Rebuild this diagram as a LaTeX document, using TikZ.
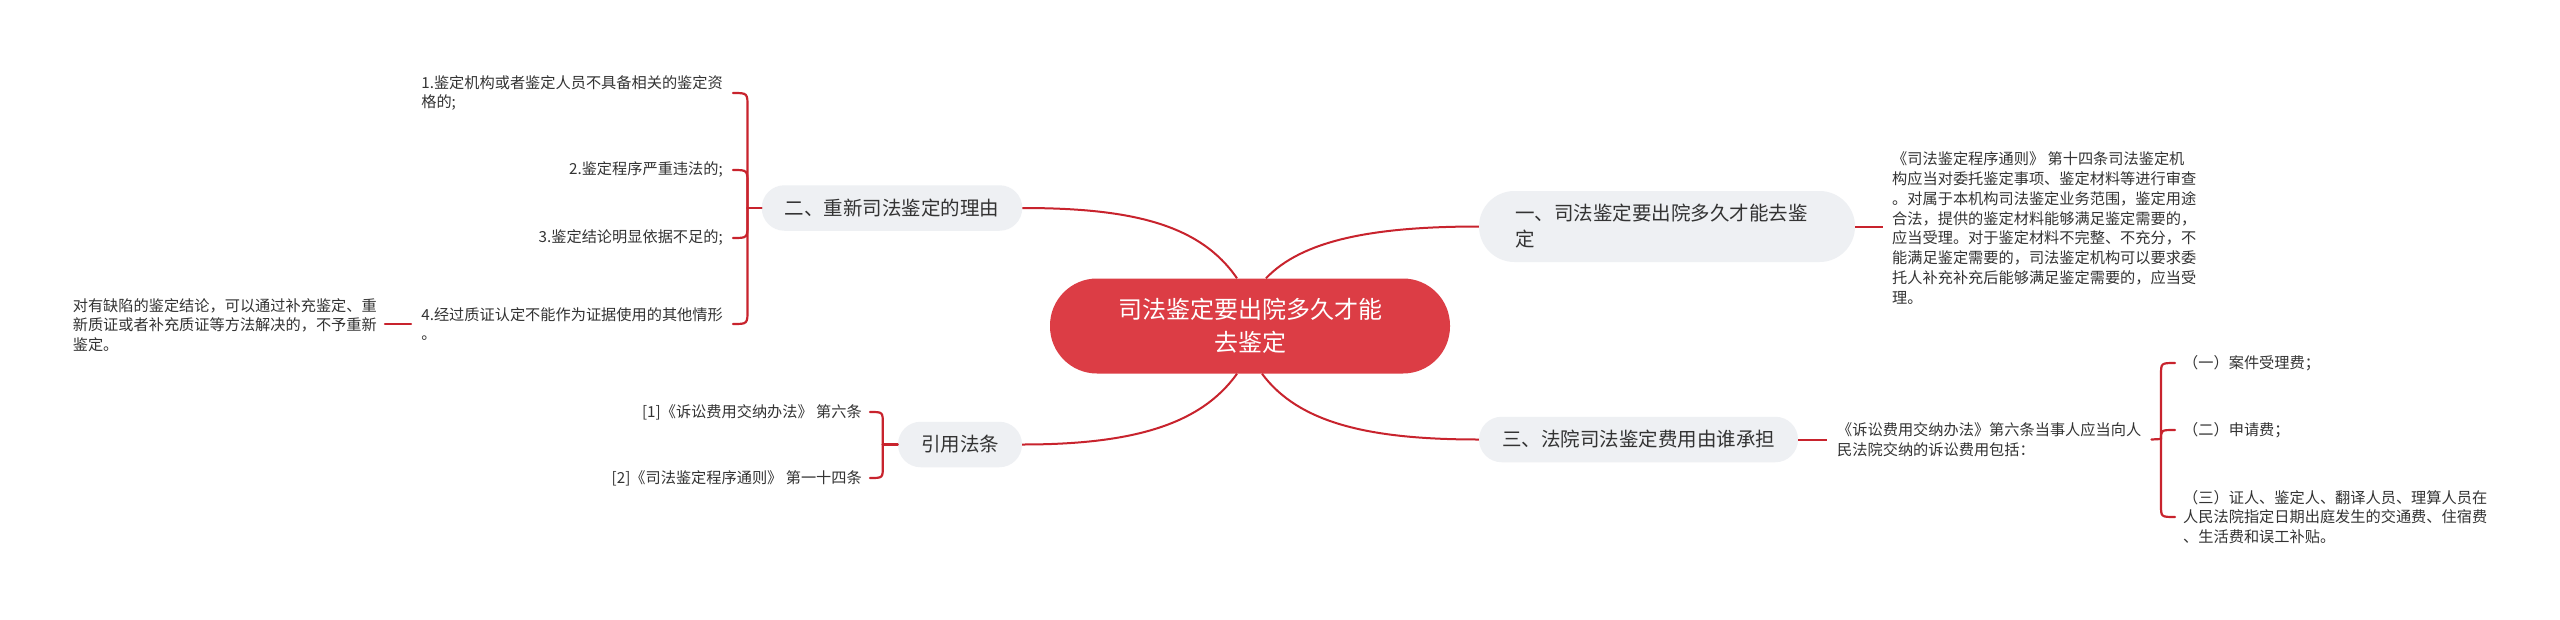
\documentclass[tikz,border=0pt]{standalone}
\usepackage{fontspec}
\setmainfont{Noto Sans CJK SC}
\usetikzlibrary{calc}
\definecolor{linered}{HTML}{C8232D}
\definecolor{rootred}{HTML}{DC3D45}
\definecolor{nodegray}{HTML}{EEF0F3}
\definecolor{txt}{HTML}{333333}
\begin{document}
\begin{tikzpicture}[x=1pt,y=-1pt,
  conn/.style={draw=linered, line width=2pt},
  brk/.style={draw=linered, line width=2.2pt, line cap=round},
  rootnode/.style={fill=rootred, text=white, rounded corners=47pt, minimum width=400pt, minimum height=95pt, align=center, font=\fontsize{24}{33}\selectfont, inner sep=0pt},
  topic/.style={fill=nodegray, text=txt, inner xsep=23pt, inner ysep=0pt, minimum height=45.5pt, rounded corners=22.7pt, font=\fontsize{19.5}{26}\selectfont},
  leaf/.style={text=txt, align=left, font=\fontsize{15.2}{19.8}\selectfont, inner xsep=10pt, inner ysep=2pt},
]
\useasboundingbox[fill=white] (0,0) rectangle (2560,619);

% root and topics
\node[rootnode] (root) at (1250,326) {司法鉴定要出院多久才能\\去鉴定};
\node[topic, minimum height=71pt, rounded corners=35.5pt, text width=304pt, align=left, inner xsep=36pt] (t1) at (1667,226.5) {一、司法鉴定要出院多久才能去鉴\\定};
\node[topic] (t2) at (892,208) {二、重新司法鉴定的理由};
\node[topic] (t4) at (960,444.5) {引用法条};
\node[topic] (t3) at (1638.5,439.5) {三、法院司法鉴定费用由谁承担};

% root connectors
\draw[conn] ($(root.north)+(-13,0)$) .. controls +(-37,-54) and +(109,0) .. (t2.east);
\draw[conn] ($(root.north)+(16,0)$) .. controls +(36,-38) and +(-106,0) .. (t1.west);
\draw[conn] ($(root.south)+(-13,0)$) .. controls +(-37,52) and +(108,0) .. (t4.east);
\draw[conn] ($(root.south)+(12,0)$) .. controls +(37,50) and +(-108,0) .. (t3.west);

% branch one
\node[leaf, anchor=west, inner xsep=9pt] (A) at (1883,228) {《司法鉴定程序通则》 第十四条司法鉴定机\\构应当对委托鉴定事项、鉴定材料等进行审查\\。对属于本机构司法鉴定业务范围，鉴定用途\\合法，提供的鉴定材料能够满足鉴定需要的，\\应当受理。对于鉴定材料不完整、不充分，不\\能满足鉴定需要的，司法鉴定机构可以要求委\\托人补充补充后能够满足鉴定需要的，应当受\\理。};
\draw[conn] (t1.east) -- (t1.east -| A.west);

% branch two
\node[leaf, anchor=east] (L1) at (733,93) {1.鉴定机构或者鉴定人员不具备相关的鉴定资\\格的;};
\node[leaf, anchor=east] (L2) at (733,170) {2.鉴定程序严重违法的;};
\node[leaf, anchor=east] (L3) at (733,238) {3.鉴定结论明显依据不足的;};
\node[leaf, anchor=east] (L4) at (733,324) {4.经过质证认定不能作为证据使用的其他情形\\。};
\node[leaf, anchor=east, inner xsep=8pt] (L5) at (385,325) {对有缺陷的鉴定结论，可以通过补充鉴定、重\\新质证或者补充质证等方法解决的，不予重新\\鉴定。};
\coordinate (j2) at ($(t2.west)+(-14,0)$);
\draw[brk] (t2.west) -- (j2);
\draw[brk] (L1.east) .. controls (j2|-L1.east) .. ($(j2|-L1.east)+(0,15)$) -- (j2);
\draw[brk] (L2.east) .. controls (j2|-L2.east) .. ($(j2|-L2.east)+(0,15)$) -- (j2);
\draw[brk] (L3.east) .. controls (j2|-L3.east) .. ($(j2|-L3.east)+(0,-15)$) -- (j2);
\draw[brk] (L4.east) .. controls (j2|-L4.east) .. ($(j2|-L4.east)+(0,-15)$) -- (j2);
\draw[brk] (L4.west) -- (L4.west -| L5.east);

% branch cited laws
\node[leaf, anchor=east, inner xsep=8pt] (R1) at (870,412) {[1]《诉讼费用交纳办法》 第六条};
\node[leaf, anchor=east, inner xsep=8pt] (R2) at (870,478) {[2]《司法鉴定程序通则》 第一十四条};
\coordinate (j4) at ($(t4.west)+(-15,0)$);
\draw[brk] (t4.west) -- (j4);
\draw[brk] (R1.east) .. controls (j4|-R1.east) .. ($(j4|-R1.east)+(0,12)$) -- (j4);
\draw[brk] (R2.east) .. controls (j4|-R2.east) .. ($(j4|-R2.east)+(0,-12)$) -- (j4);

% branch three
\node[leaf, anchor=west] (B) at (1827,439.5) {《诉讼费用交纳办法》第六条当事人应当向人\\民法院交纳的诉讼费用包括：};
\draw[conn] (t3.east) -- (t3.east -| B.west);
\coordinate (j3) at (2161,439);
\draw[brk] (B.east) -- (j3);
\node[leaf, anchor=west, inner xsep=8pt] (C1) at (2175,363) {（一）案件受理费；};
\node[leaf, anchor=west, inner xsep=8pt] (C2) at (2175,430) {（二）申请费；};
\node[leaf, anchor=west, inner xsep=8pt] (C3) at (2175,517) {（三）证人、鉴定人、翻译人员、理算人员在\\人民法院指定日期出庭发生的交通费、住宿费\\、生活费和误工补贴。};
\draw[brk] (j3) -- ($(j3|-C1.west)+(0,12)$) .. controls (j3|-C1.west) .. (C1.west);
\draw[brk] (j3) .. controls (j3|-C2.west) .. (C2.west);
\draw[brk] (j3) -- ($(j3|-C3.west)+(0,-12)$) .. controls (j3|-C3.west) .. (C3.west);
\end{tikzpicture}
\end{document}
